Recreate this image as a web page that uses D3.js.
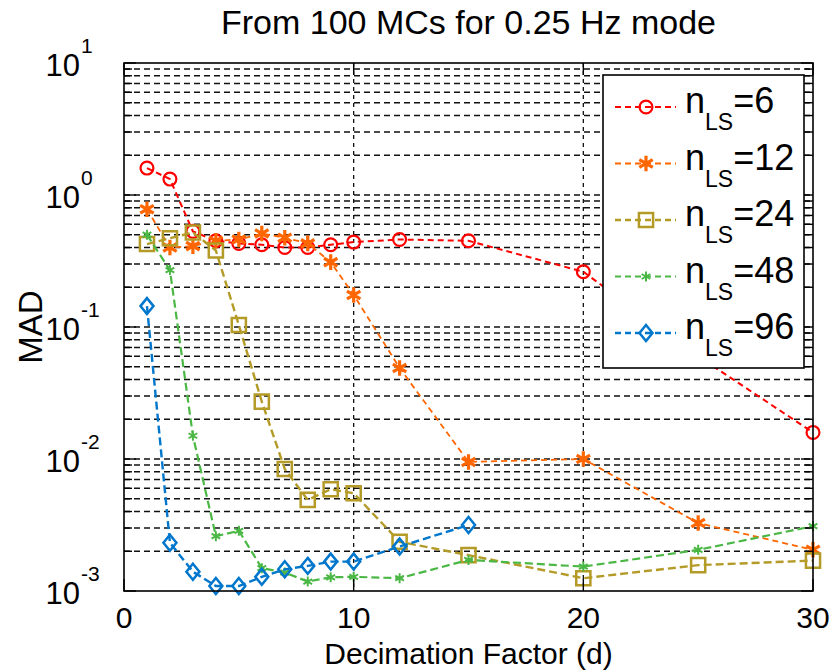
<!DOCTYPE html>
<html>
<head>
<meta charset="utf-8">
<script src="https://cdn.jsdelivr.net/npm/d3@7"></script>
<style>
  html, body { margin: 0; padding: 0; background: #fff; }
  svg { display: block; font-family: "Liberation Sans", Arial, sans-serif; }
</style>
</head>
<body>
<svg id="chart" width="833" height="671"></svg>
<script>
// ---------------- data ----------------
const titleText = "From 100 MCs for 0.25 Hz mode";
const xLabelText = "Decimation Factor (d)";
const yLabelText = "MAD";
const xTicks = [0, 10, 20, 30];
const yExponents = [1, 0, -1, -2, -3];
const decimation = [1, 2, 3, 4, 5, 6, 7, 8, 9, 10, 12, 15, 20, 25, 30];
const decimation96 = [1, 2, 3, 4, 5, 6, 7, 8, 9, 10, 12, 15];
const mad6  = [1.6, 1.32, 0.53, 0.45, 0.43, 0.42, 0.40, 0.40, 0.42, 0.44, 0.46, 0.45, 0.262, 0.06, 0.0159];
const mad12 = [0.78, 0.40, 0.41, 0.45, 0.46, 0.51, 0.475, 0.43, 0.31, 0.175, 0.049, 0.0095, 0.0100, 0.00327, 0.00205];
const mad24 = [0.425, 0.47, 0.52, 0.38, 0.1035, 0.0272, 0.0084, 0.0049, 0.0059, 0.0055, 0.00236, 0.00187, 0.00125, 0.00157, 0.0017];
const mad48 = [0.5, 0.27, 0.015, 0.0026, 0.00286, 0.00149, 0.00138, 0.00118, 0.00127, 0.00128, 0.00125, 0.00172, 0.00153, 0.00205, 0.0031];
const mad96 = [0.144, 0.00232, 0.0014, 0.00109, 0.00109, 0.00128, 0.00146, 0.00155, 0.00167, 0.00167, 0.00217, 0.00316];
const seriesNames = ["6", "12", "24", "48", "96"];
const seriesColors = ["#ff0000", "#ff6600", "#b49b28", "#4bb845", "#0077cc"];
const seriesMarkers = ["circle", "asterisk", "square", "asterisk", "diamond"];

const series = [
  { name: seriesNames[0], xs: decimation, ys: mad6 },
  { name: seriesNames[1], xs: decimation, ys: mad12 },
  { name: seriesNames[2], xs: decimation, ys: mad24 },
  { name: seriesNames[3], xs: decimation, ys: mad48 },
  { name: seriesNames[4], xs: decimation96, ys: mad96 }
].map((s, i) => ({ ...s, color: seriesColors[i], marker: seriesMarkers[i], idx: i }));

// ---------------- layout ----------------
const svg = d3.select("#chart");
const L = 124, R = 813, T = 63, B = 591;
const x = d3.scaleLinear().domain([0, 30]).range([L, R]);
const y = d3.scaleLog().domain([1e-3, 10]).range([B, T]);
const FONT = "'Liberation Sans', Arial, sans-serif";

// grid lines (minor + major)
const gridVals = [];
for (let e = -3; e < 1; e++) for (let m = 1; m <= 9; m++) gridVals.push(m * Math.pow(10, e));
const grid = svg.append("g");
grid.selectAll("line.h").data(gridVals.filter(v => v > 1e-3 * 1.0001)).enter().append("line")
  .attr("x1", L).attr("x2", R).attr("y1", d => y(d)).attr("y2", d => y(d))
  .attr("stroke", "#111").attr("stroke-width", 1.5).attr("stroke-dasharray", "6,4");
grid.selectAll("line.v").data(xTicks.filter(v => v > 0 && v < 30)).enter().append("line")
  .attr("x1", d => x(d)).attr("x2", d => x(d)).attr("y1", T).attr("y2", B)
  .attr("stroke", "#111").attr("stroke-width", 1.3).attr("stroke-dasharray", "4,4");

// markers
function markerPath(type, size) {
  if (type === "circle") return d3.symbol(d3.symbolCircle, size)();
  if (type === "square") return d3.symbol(d3.symbolSquare, size)();
  if (type === "asterisk") return d3.symbol(d3.symbolAsterisk, size)();
  if (type === "diamond") return "M0,-8L6.5,0L0,8L-6.5,0Z";
}
const markerSize = [130, 170, 200, 70, 0];
const markerStroke = [2.2, 3.2, 2.5, 2, 2.5];
const lineWidth = [2, 1.8, 2.4, 2.2, 2.4];
const dashes = ["6,4", "6,4", "8,4", "8,4", "8,4"];

// series lines
const line = d3.line().x(d => x(d[0])).y(d => y(d[1]));
series.forEach(s => {
  const pts = s.xs.map((xv, i) => [xv, s.ys[i]]);
  svg.append("path").datum(pts).attr("d", line)
    .attr("fill", "none").attr("stroke", s.color).attr("stroke-width", lineWidth[s.idx])
    .attr("stroke-dasharray", dashes[s.idx]);
  svg.append("g").selectAll("path").data(pts).enter().append("path")
    .attr("d", markerPath(s.marker, markerSize[s.idx]))
    .attr("transform", d => `translate(${x(d[0])},${y(d[1])})`)
    .attr("fill", "none").attr("stroke", s.color).attr("stroke-width", markerStroke[s.idx]);
});

// axes box and ticks
const ax = svg.append("g");
ax.append("rect").attr("x", L).attr("y", T).attr("width", R - L).attr("height", B - T)
  .attr("fill", "none").attr("stroke", "#000").attr("stroke-width", 1.6);
const tickVals = [];
for (let e = -3; e < 1; e++) for (let m = 1; m <= 9; m++) tickVals.push(m * Math.pow(10, e));
tickVals.push(10);
tickVals.forEach(v => {
  const major = Math.abs(Math.log10(v) - Math.round(Math.log10(v))) < 1e-9;
  const len = major ? 12 : 8;
  ax.append("line").attr("x1", L).attr("x2", L + len).attr("y1", y(v)).attr("y2", y(v))
    .attr("stroke", "#000").attr("stroke-width", 1.4);
  ax.append("line").attr("x1", R - len).attr("x2", R).attr("y1", y(v)).attr("y2", y(v))
    .attr("stroke", "#000").attr("stroke-width", 1.4);
});
xTicks.forEach(v => {
  ax.append("line").attr("x1", x(v)).attr("x2", x(v)).attr("y1", B).attr("y2", B - 12)
    .attr("stroke", "#000").attr("stroke-width", 1.4);
  ax.append("line").attr("x1", x(v)).attr("x2", x(v)).attr("y1", T).attr("y2", T + 12)
    .attr("stroke", "#000").attr("stroke-width", 1.4);
});

// x tick labels
svg.append("g").selectAll("text").data(xTicks).enter().append("text")
  .attr("x", d => x(d)).attr("y", 628).attr("text-anchor", "middle")
  .attr("font-family", FONT).attr("font-size", 30).attr("fill", "#000").text(d => d);

// y tick labels 10^e
const yl = svg.append("g");
yExponents.forEach(e => {
  const yy = y(Math.pow(10, e));
  yl.append("text").attr("x", 80).attr("y", yy + 13).attr("text-anchor", "end")
    .attr("font-family", FONT).attr("font-size", 31).attr("fill", "#000").text("10");
  yl.append("text").attr("x", 81).attr("y", yy - 10).attr("text-anchor", "start")
    .attr("font-family", FONT).attr("font-size", 21).attr("fill", "#000").text(e < 0 ? "-" + Math.abs(e) : String(e));
});

// title and axis labels
svg.append("text").attr("x", (L + R) / 2).attr("y", 34).attr("text-anchor", "middle")
  .attr("font-family", FONT).attr("font-size", 34).attr("fill", "#000").text(titleText);
svg.append("text").attr("x", (L + R) / 2).attr("y", 664).attr("text-anchor", "middle")
  .attr("font-family", FONT).attr("font-size", 30).attr("fill", "#000").text(xLabelText);
svg.append("text").attr("transform", `translate(42,${(T + B) / 2}) rotate(-90)`).attr("text-anchor", "middle")
  .attr("font-family", FONT).attr("font-size", 33).attr("fill", "#000").text(yLabelText);

// legend
const lg = svg.append("g");
const LX = 603, LY = 75, LW = 201, LH = 293;
lg.append("rect").attr("x", LX).attr("y", LY).attr("width", LW).attr("height", LH)
  .attr("fill", "#fff").attr("stroke", "#000").attr("stroke-width", 1.6);
series.forEach((s, i) => {
  const cy = 107 + i * 56.5;
  lg.append("line").attr("x1", 615).attr("x2", 676).attr("y1", cy).attr("y2", cy)
    .attr("stroke", s.color).attr("stroke-width", lineWidth[i]).attr("stroke-dasharray", "6,4");
  lg.append("path").attr("d", markerPath(s.marker, markerSize[i]))
    .attr("transform", `translate(646,${cy})`)
    .attr("fill", "none").attr("stroke", s.color).attr("stroke-width", markerStroke[i]);
  const t = lg.append("text").attr("x", 685).attr("y", cy + 6).attr("font-family", FONT).attr("fill", "#000");
  t.append("tspan").attr("font-size", 36).text("n");
  t.append("tspan").attr("font-size", 23).attr("dy", 17).text("LS");
  t.append("tspan").attr("font-size", 36).attr("dy", -17).text("=" + s.name);
});
</script>
</body>
</html>
